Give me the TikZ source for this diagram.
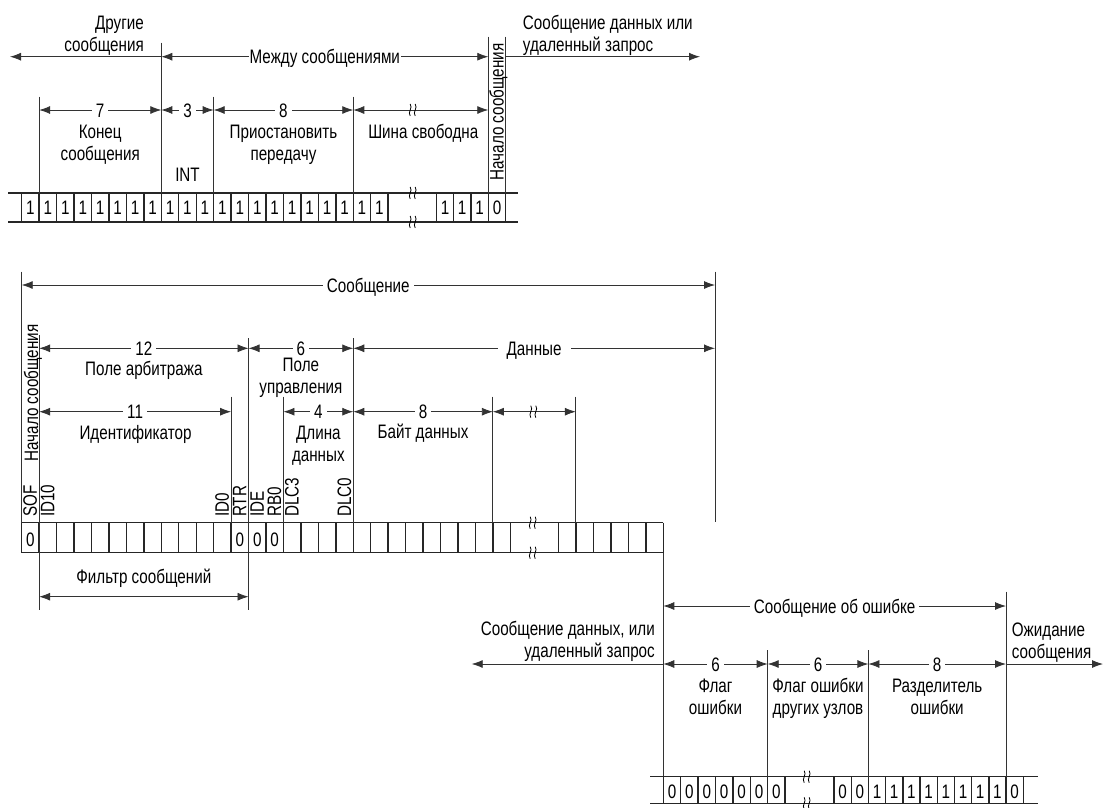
\documentclass[tikz,border=0pt]{standalone}
\usepackage{fontspec}
\setmainfont{Liberation Sans}[FakeStretch=0.78]
\usetikzlibrary{arrows.meta}

\tikzset{
  brk/.pic={
    \draw[line width=0.8pt] (-2.5,-6) .. controls (0.5,-2) and (-5.5,2) .. (-2.5,6);
    \draw[line width=0.8pt] (2.5,-6) .. controls (5.5,-2) and (-0.5,2) .. (2.5,6);
  }
}

\begin{document}
\begin{tikzpicture}[x=1pt,y=-1pt,font=\fontsize{19.5}{22}\selectfont,
  >={Latex[length=11pt,width=8pt]},
  guide/.style={draw=black!80, line width=0.8pt},
  cellrow/.style={draw=black!85, line width=1.4pt},
  num/.style={fill=white, inner xsep=4pt, inner ysep=0pt, anchor=base},
  lbl/.style={align=center, anchor=base, inner sep=0pt},
  vlbl/.style={rotate=90, anchor=west, inner sep=0pt, text height=13pt, text depth=0pt},
  bit/.style={anchor=base, inner sep=0pt}]
\useasboundingbox (0,0) rectangle (1104,807);

% between messages: bit row
\draw[cellrow] (8.3,193) -- (518.3,193) (8.3,222) -- (518.3,222);
\foreach \k in {0,...,21}
  \draw[cellrow] ({21.7+17.45*\k},193) -- ++(0,29);
\foreach \x in {436.7,453.3,471,488.3,505.7}
  \draw[cellrow] (\x,193) -- ++(0,29);
\foreach \k in {0,...,20}
  \node[bit] (u\k) at ({30.4+17.45*\k},214) {1};
\foreach \x/\b [count=\i] in {445/1,462.2/1,479.7/1,497/0}
  \node[bit] (v\i) at (\x,214) {\b};
\pic at (412.7,193) {brk};
\pic at (412.7,222) {brk};

\draw[guide] (161.3,42.7) -- (161.3,193);
\draw[guide] (39.15,96.7) -- (39.15,193);
\draw[guide] (213.65,96.7) -- (213.65,193);
\draw[guide] (353.25,96.7) -- (353.25,193);
\draw[guide] (488.3,36.7) -- (488.3,193);
\draw[guide] (505.7,36.7) -- (505.7,193);

\draw[guide,->] (161.3,56.7) -- (10,56.7);
\draw[guide,<->] (161.3,56.7) -- (488.3,56.7);
\draw[guide,->] (505.7,56.7) -- (700,56.7);
\node[num,inner xsep=1pt] (betw) at (324.8,63.7) {Между сообщениями};
\node[lbl,align=right,anchor=base east] (othr) at (144,51) {Другие\\сообщения};
\node[lbl,align=left,anchor=base west] (next) at (522.7,51) {Сообщение данных или\\удаленный запрос};

\draw[guide,<->] (39.15,110) -- (161.3,110);
\draw[guide,<->] (161.3,110) -- (213.65,110);
\draw[guide,<->] (213.65,110) -- (353.25,110);
\draw[guide,<->] (353.25,110) -- (488.3,110);
\pic at (412.7,110) {brk};
\node[num] (n7) at (100.2,117) {7};
\node[num] (n3) at (187.5,117) {3};
\node[num] (n8) at (283.45,117) {8};
\node[lbl] (eof) at (100.2,160) {Конец\\сообщения};
\node[lbl] (int) at (187.5,181) {INT};
\node[lbl] (susp) at (283.45,160) {Приостановить\\передачу};
\node[lbl] (idle) at (423.3,138) {Шина свободна};
\node[vlbl,anchor=center] (sofa) at (497,112) {Начало сообщения};

% message frame
\draw[cellrow] (21.7,522.7) -- (663.3,522.7) (21.7,552.7) -- (663.3,552.7);
\foreach \k in {0,...,28}
  \draw[cellrow] ({21.7+17.45*\k},522.7) -- ++(0,30);
\foreach \j in {0,...,6}
  \draw[cellrow] ({558.3+17.5*\j},522.7) -- ++(0,30);
\foreach \k in {0,12,13,14}
  \node[bit] (m\k) at ({30.4+17.45*\k},546) {0};
\pic at (532.7,522.7) {brk};
\pic at (532.7,552.7) {brk};

\draw[guide] (21.7,271.7) -- (21.7,522.7);
\draw[guide] (39.15,335) -- (39.15,610);
\draw[guide] (231.1,396.7) -- (231.1,522.7);
\draw[guide] (248.55,338) -- (248.55,610);
\draw[guide] (283.45,396.7) -- (283.45,522.7);
\draw[guide] (353.25,338) -- (353.25,522.7);
\draw[guide] (492.85,396.7) -- (492.85,522.7);
\draw[guide] (575.8,396.7) -- (575.8,522.7);
\draw[guide] (715,271.7) -- (715,521.7);
\draw[guide] (663.3,552.7) -- (663.3,776.7);

\draw[guide,<->] (21.7,285) -- (715,285);
\node[num] (msg) at (368.3,292) {Сообщение};
\draw[guide,<->] (39.15,348.3) -- (248.55,348.3);
\draw[guide,<->] (248.55,348.3) -- (353.25,348.3);
\draw[guide,<->] (353.25,348.3) -- (715,348.3);
\node[num] (n12) at (143.85,355.3) {12};
\node[num] (n6a) at (300.9,355.3) {6};
\node[num,inner xsep=9pt] (data) at (534.1,355.3) {Данные};
\node[lbl] (arb) at (143.85,375) {Поле арбитража};
\node[lbl] (ctrl) at (300.9,393.5) {Поле\\управления};

\draw[guide,<->] (39.15,411.7) -- (231.1,411.7);
\draw[guide,<->] (283.45,411.7) -- (353.25,411.7);
\draw[guide,<->] (353.25,411.7) -- (492.85,411.7);
\draw[guide,<->] (492.85,411.7) -- (575.8,411.7);
\pic at (533.3,411.7) {brk};
\node[num] (n11) at (135.1,418.7) {11};
\node[num] (n4) at (318.35,418.7) {4};
\node[num] (n8b) at (423,418.7) {8};
\node[lbl] (ident) at (135.5,439) {Идентификатор};
\node[lbl] (dlen) at (318.35,461) {Длина\\данных};
\node[lbl] (dbyte) at (423,438.5) {Байт данных};

\node[vlbl,anchor=center] (sofb) at (31.5,393) {Начало сообщения};
\foreach \k/\t in {0/SOF,1/ID10,11/ID0,12/RTR,13/IDE,14/RB0,15/DLC3,18/DLC0}
  \node[vlbl] (f\k) at ({30.4+17.45*\k},517) {\t};

\draw[guide,<->] (39.15,596.7) -- (248.55,596.7);
\node[lbl] (filt) at (143.85,583.3) {Фильтр сообщений};

% error frame
\draw[cellrow] (650,776.7) -- (1038.3,776.7) (650,803.3) -- (1038.3,803.3);
\foreach \k in {0,...,7}
  \draw[cellrow] ({663.3+17.4*\k},776.7) -- ++(0,26.6);
\foreach \j in {0,...,11}
  \draw[cellrow] ({834+17.2*\j},776.7) -- ++(0,26.6);
\foreach \k in {0,...,6}
  \node[bit] (e\k) at ({672+17.4*\k},798) {0};
\foreach \b [count=\j from 0] in {0,0,1,1,1,1,1,1,1,1,0}
  \node[bit] (r\j) at ({842.6+17.2*\j},798) {\b};
\pic at (806.7,776.7) {brk};
\pic at (806.7,803.3) {brk};

\draw[guide] (767.7,650) -- (767.7,776.7);
\draw[guide] (868.4,650) -- (868.4,776.7);
\draw[guide] (1006,591.7) -- (1006,776.7);

\draw[guide,<->] (663.3,606) -- (1006,606);
\node[num] (err) at (834.65,613) {Сообщение об ошибке};
\draw[guide,->] (663.3,664) -- (471.7,664);
\draw[guide,<->] (663.3,664) -- (767.7,664);
\draw[guide,<->] (767.7,664) -- (868.4,664);
\draw[guide,<->] (868.4,664) -- (1006,664);
\draw[guide,->] (1006,664) -- (1103,664);
\node[num] (n6b) at (715.5,671) {6};
\node[num] (n6c) at (818,671) {6};
\node[num] (n8c) at (937.2,671) {8};
\node[lbl,align=right,anchor=base east] (prev) at (655,657) {Сообщение данных, или\\удаленный запрос};
\node[lbl,align=left,anchor=base west] (wait) at (1011.7,658) {Ожидание\\сообщения};
\node[lbl] (eflag) at (715.5,714.5) {Флаг\\ошибки};
\node[lbl] (oflag) at (818,714.5) {Флаг ошибки\\других узлов};
\node[lbl] (edel) at (937.2,714.5) {Разделитель\\ошибки};
\end{tikzpicture}
\end{document}
